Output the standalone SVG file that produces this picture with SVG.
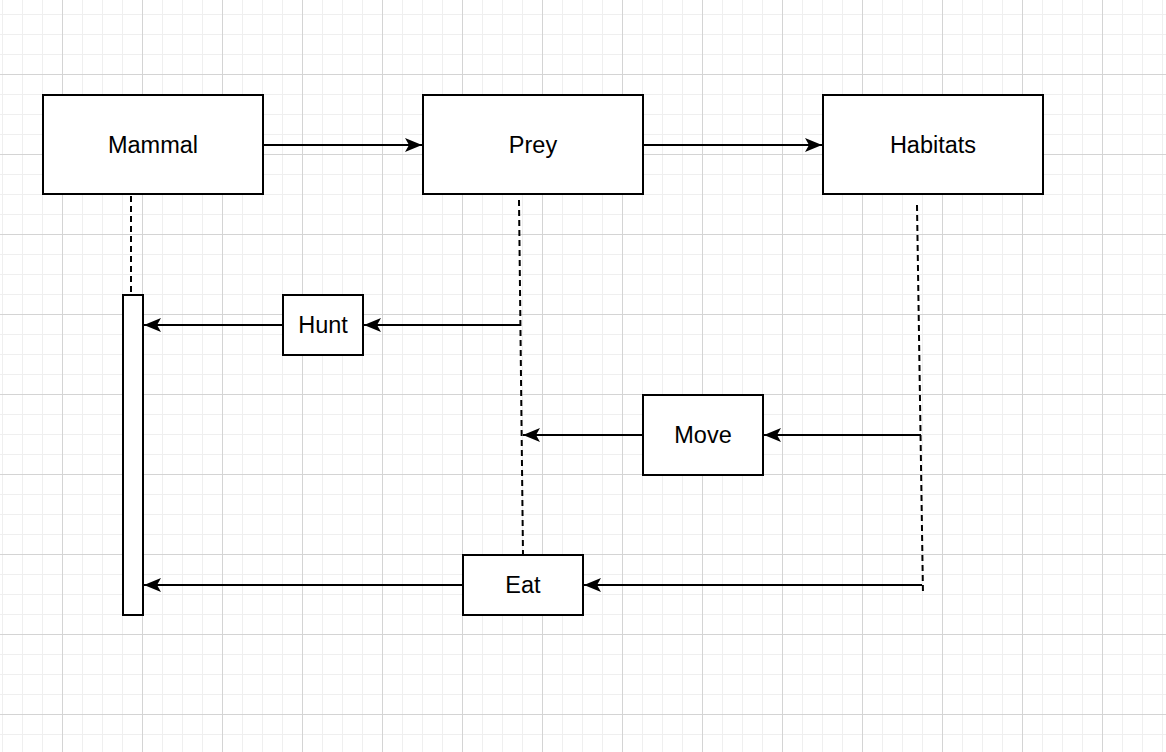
<svg xmlns="http://www.w3.org/2000/svg" width="1166" height="752" viewBox="0 0 1166 752">
<style>
.box{fill:#fff;stroke:#000;stroke-width:2}
.lbl{font-family:"Liberation Sans",Arial,sans-serif;font-size:23.5px;fill:#000;text-anchor:middle}
.edge{fill:none;stroke:#000;stroke-width:2}
.life{fill:none;stroke:#000;stroke-width:2;stroke-dasharray:6 4}
</style>
<defs>
<pattern id="minor" x="2" y="14" width="20" height="20" patternUnits="userSpaceOnUse">
<rect x="0" y="0" width="1" height="20" fill="#efefef"/>
<rect x="0" y="0" width="20" height="1" fill="#efefef"/>
</pattern>
<pattern id="major" x="62" y="74" width="80" height="80" patternUnits="userSpaceOnUse">
<rect x="0" y="0" width="1" height="80" fill="#d4d4d4"/>
<rect x="0" y="0" width="80" height="1" fill="#d4d4d4"/>
</pattern>
<marker id="arr" markerUnits="userSpaceOnUse" markerWidth="20" markerHeight="16" refX="18" refY="8" orient="auto">
<path d="M1,1 L18,8 L1,15 L5,8 Z" fill="#000"/>
</marker>
</defs>
<rect width="1166" height="752" fill="#fff"/>
<rect width="1166" height="752" fill="url(#minor)"/>
<rect width="1166" height="752" fill="url(#major)"/>
<g id="connectors">
<line class="life" x1="131" y1="196" x2="131" y2="295"/>
<line class="life" x1="519" y1="200" x2="523" y2="555"/>
<line class="life" x1="917" y1="205" x2="923" y2="595"/>
<line class="edge" x1="263" y1="145" x2="422" y2="145" marker-end="url(#arr)"/>
<line class="edge" x1="643" y1="145" x2="822" y2="145" marker-end="url(#arr)"/>
<line class="edge" x1="521" y1="325" x2="364" y2="325" marker-end="url(#arr)"/>
<line class="edge" x1="283" y1="325" x2="144" y2="325" marker-end="url(#arr)"/>
<line class="edge" x1="921" y1="435" x2="764" y2="435" marker-end="url(#arr)"/>
<line class="edge" x1="643" y1="435" x2="523" y2="435" marker-end="url(#arr)"/>
<line class="edge" x1="922" y1="585" x2="584" y2="585" marker-end="url(#arr)"/>
<line class="edge" x1="463" y1="585" x2="144" y2="585" marker-end="url(#arr)"/>
</g>
<g id="mammal"><rect class="box" x="43" y="95" width="220" height="99"/><text class="lbl" x="153" y="153">Mammal</text></g>
<g id="prey"><rect class="box" x="423" y="95" width="220" height="99"/><text class="lbl" x="533" y="153">Prey</text></g>
<g id="habitats"><rect class="box" x="823" y="95" width="220" height="99"/><text class="lbl" x="933" y="153">Habitats</text></g>
<g id="activation"><rect class="box" x="123" y="295" width="20" height="320"/></g>
<g id="hunt"><rect class="box" x="283" y="295" width="80" height="60"/><text class="lbl" x="323" y="333">Hunt</text></g>
<g id="move"><rect class="box" x="643" y="395" width="120" height="80"/><text class="lbl" x="703" y="443">Move</text></g>
<g id="eat"><rect class="box" x="463" y="555" width="120" height="60"/><text class="lbl" x="523" y="593">Eat</text></g>
</svg>
